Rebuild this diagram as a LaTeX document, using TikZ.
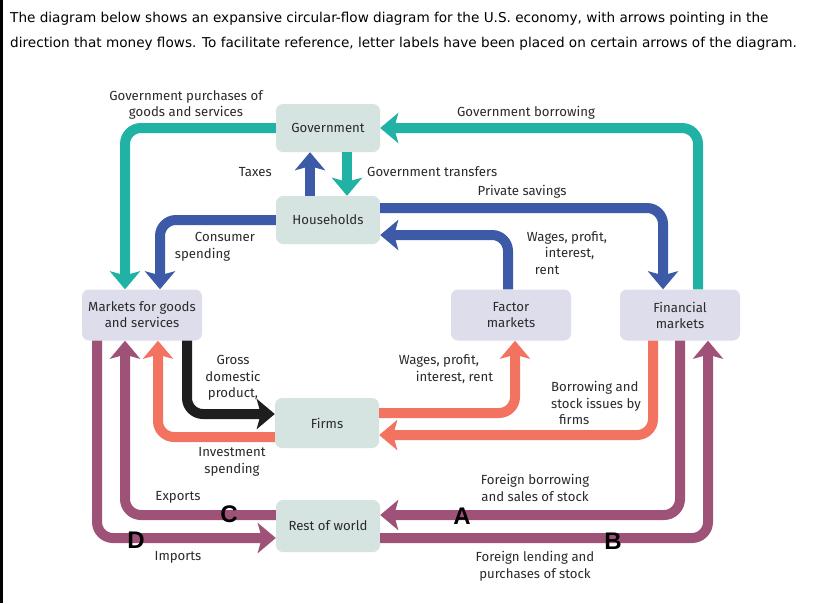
\documentclass[tikz,border=0pt]{standalone}
\usepackage{fontspec}
\setmainfont{Fira Sans}
\newfontfamily\titlefont{DejaVu Sans}
\newfontfamily\letterfont{Liberation Sans}
\usepackage{tikz}
\usetikzlibrary{arrows.meta, positioning, calc}
\definecolor{cfTeal}{HTML}{20B2A4}
\definecolor{cfBlue}{HTML}{3C5AA8}
\definecolor{cfSalmon}{HTML}{F2735F}
\definecolor{cfMauve}{HTML}{9E5277}
\definecolor{cfBlack}{HTML}{1E1E1E}
\definecolor{cfSector}{HTML}{D6E4E1}
\definecolor{cfMarket}{HTML}{DEDDEC}
\definecolor{cfText}{HTML}{2A2A2A}
\tikzset{
  cfnode/.style={
    rounded corners=7pt, align=center, font=\fontsize{13.2}{16}\selectfont,
    text=cfText, inner sep=2pt
  },
  sector/.style={cfnode, fill=cfSector, minimum width=104pt, minimum height=48pt},
  market/.style={cfnode, fill=cfMarket, minimum width=120pt, minimum height=51pt},
  flow/.style={line width=10pt, rounded corners=16pt,
    -{Stealth[length=18pt, width=30pt, inset=4pt]}},
  tealflow/.style={flow, cfTeal},
  blueflow/.style={flow, cfBlue},
  salmonflow/.style={flow, cfSalmon},
  mauveflow/.style={flow, cfMauve},
  blackflow/.style={flow, cfBlack},
  tag/.style={font=\fontsize{13.2}{16.5}\selectfont, text=cfText, inner sep=0pt},
  letter/.style={font=\letterfont\bfseries\fontsize{24}{24}\selectfont, text=black, inner sep=0pt}
}
\begin{document}
\begin{tikzpicture}[x=1pt, y=-1pt]
  \useasboundingbox[fill=white] (0,0) rectangle (816,603);
  \fill[black] (0,0) rectangle (3,603);

  % question text
  \node[anchor=west, font=\titlefont\fontsize{13.6}{16}\selectfont, inner sep=0pt] (q1) at (10,19)
    {The diagram below shows an expansive circular-flow diagram for the U.S. economy, with arrows pointing in the};
  \node[anchor=west, font=\titlefont\fontsize{13.6}{16}\selectfont, inner sep=0pt] (q2) at (10,44)
    {direction that money flows. To facilitate reference, letter labels have been placed on certain arrows of the diagram.};

  % sectors and markets
  \node[sector] (gov) at (328,128) {Government};
  \node[sector] (hh) at (328,220) {Households};
  \node[market] (mkt) at (142,315) {Markets for goods\\and services};
  \node[market] (fac) at (511,315) {Factor\\markets};
  \node[market] (fin) at (680,315) {Financial\\markets};
  \node[sector, minimum height=50pt] (firms) at (327,423) {Firms};
  \node[sector, minimum height=52pt] (row) at (328,526) {Rest of world};

  % government flows
  \draw[tealflow] (gov.west) -| ([xshift=-17pt]mkt.north);
  \draw[tealflow] ([xshift=18pt]fin.north) |- (gov.east);
  \draw[blueflow] ([xshift=-18pt]hh.north) -- ([xshift=-18pt]gov.south);
  \draw[tealflow] ([xshift=19pt]gov.south) -- ([xshift=19pt]hh.north);

  % household flows
  \draw[blueflow] (hh.west) -| ([xshift=18pt]mkt.north);
  \draw[blueflow] ([yshift=12pt]hh.east) -| ([xshift=-17pt]fin.north);
  \draw[blueflow] ([xshift=-3pt]fac.north) |- ([yshift=-15pt]hh.east);

  % firm flows
  \draw[blackflow] ([xshift=45pt]mkt.south) |- ([yshift=9pt]firms.west);
  \draw[salmonflow] ([yshift=-14pt]firms.west) -| ([xshift=16pt]mkt.south);
  \draw[salmonflow] ([yshift=10pt]firms.east) -| ([xshift=4pt]fac.south);
  \draw[salmonflow] ([xshift=-27pt]fin.south) |- ([yshift=-12pt]firms.east);

  % rest of world flows
  \draw[mauveflow] ([yshift=11pt]row.west) -| ([xshift=-17pt]mkt.south);
  \draw[mauveflow] ([xshift=-45pt]mkt.south) |- ([yshift=-12pt]row.west);
  \draw[mauveflow] (fin.south) |- ([yshift=11pt]row.east);
  \draw[mauveflow] ([yshift=-12pt]row.east) -| ([xshift=28pt]fin.south);

  % flow labels
  \node[tag, align=center] (lgp) at (186,105) {Government purchases of\\goods and services};
  \node[tag] (lgb) at (526,113) {Government borrowing};
  \node[tag, anchor=east] (ltax) at (272,172) {Taxes};
  \node[tag, anchor=west] (ltr) at (367,172) {Government transfers};
  \node[tag] (lps) at (522,192) {Private savings};
  \node[tag, align=left] (lcs) at (215,247) {\hspace*{20pt}Consumer\\spending};
  \node[tag, align=left] (lwu) at (567,253) {Wages, profit,\\\hspace*{18pt}interest,\\\hspace*{8pt}rent};
  \node[tag, align=center] (lgdp) at (233,378) {Gross\\domestic\\product,};
  \node[tag, align=left] (lwl) at (446,369) {Wages, profit,\\\hspace*{17pt}interest, rent};
  \node[tag, align=left] (lbor) at (596,403) {Borrowing and\\stock issues by\\\hspace*{8pt}firms};
  \node[tag, align=center] (linv) at (232,462) {Investment\\spending};
  \node[tag] (lexp) at (178,497) {Exports};
  \node[tag] (limp) at (178,557) {Imports};
  \node[tag, align=center] (lfb) at (535,488) {Foreign borrowing\\and sales of stock};
  \node[tag, align=center] (lfl) at (535,566) {Foreign lending and\\purchases of stock};

  % letter labels
  \node[letter] (la) at (462,516) {A};
  \node[letter] (lb) at (613,541) {B};
  \node[letter] (lc) at (229,514) {C};
  \node[letter] (ld) at (136,540) {D};
\end{tikzpicture}
\end{document}
